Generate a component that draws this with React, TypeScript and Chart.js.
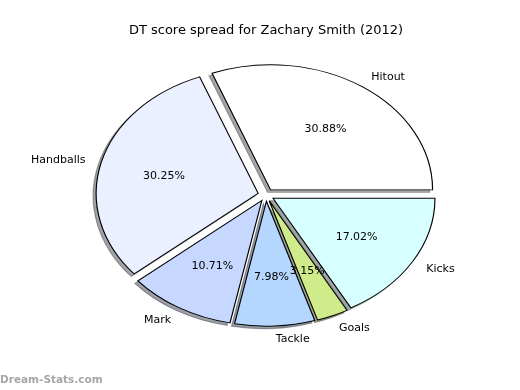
import React, { useEffect, useRef } from "react";
import { Chart, registerables } from "chart.js";

Chart.register(...registerables);

const TITLE = "DT score spread for Zachary Smith (2012)";
const WATERMARK = "Dream-Stats.com";
const categories = ["Hitout", "Handballs", "Mark", "Tackle", "Goals", "Kicks"];
const percentages = [30.88, 30.25, 10.71, 7.98, 3.15, 17.02];
const percentLabels = ["30.88%", "30.25%", "10.71%", "7.98%", "3.15%", "17.02%"];
const sliceColors = ["#ffffff", "#eaf0ff", "#c6d8ff", "#b4d6ff", "#cfeb8a", "#d8ffff"];

const SX = 1.296; // horizontal stretch (non-equal aspect pie)
const EXPLODE = 0.05;
const SHIFT = 3000;
const FONT = "'DejaVu Sans', 'Liberation Sans', sans-serif";

function shadowOf(hex: string): string {
  const h = hex.replace("#", "");
  const r = parseInt(h.slice(0, 2), 16);
  const g = parseInt(h.slice(2, 4), 16);
  const b = parseInt(h.slice(4, 6), 16);
  return `rgba(${Math.round(r * 0.3)},${Math.round(g * 0.3)},${Math.round(b * 0.3)},0.5)`;
}

const mplPie = {
  id: "mplPie",
  beforeDatasetsDraw(chart: any) {
    const ctx = chart.ctx as CanvasRenderingContext2D;
    const arcs = chart.getDatasetMeta(0).data;
    const bgs = chart.data.datasets[0].backgroundColor as string[];
    const pass = (shadow: boolean) => {
      arcs.forEach((arc: any, i: number) => {
        const { x, y, startAngle, endAngle, outerRadius } = arc.getProps(
          ["x", "y", "startAngle", "endAngle", "outerRadius"],
          true
        );
        const mid = (startAngle + endAngle) / 2;
        ctx.save();
        if (shadow) {
          ctx.translate(-SHIFT, 0);
          ctx.shadowOffsetX = SHIFT - 3;
          ctx.shadowOffsetY = 2.5;
          ctx.shadowBlur = 0;
          ctx.shadowColor = shadowOf(bgs[i]);
        }
        ctx.translate(x, y);
        ctx.scale(SX, 1);
        ctx.translate(-x, -y);
        ctx.translate(Math.cos(mid) * EXPLODE * outerRadius, Math.sin(mid) * EXPLODE * outerRadius);
        arc.draw(ctx);
        ctx.restore();
      });
    };
    pass(true);
    pass(false);
    return false;
  },
  afterDraw(chart: any) {
    const ctx = chart.ctx as CanvasRenderingContext2D;
    const arcs = chart.getDatasetMeta(0).data;
    const n = categories.length;
    ctx.save();
    ctx.fillStyle = "#000000";
    ctx.font = `13px ${FONT}`;
    ctx.textAlign = "center";
    ctx.textBaseline = "middle";
    ctx.fillText(TITLE, 266, 31);

    ctx.font = `11px ${FONT}`;
    for (let i = 0; i < n; i++) {
      const arc = arcs[n - 1 - i];
      const { x, y, startAngle, endAngle, outerRadius } = arc.getProps(
        ["x", "y", "startAngle", "endAngle", "outerRadius"],
        true
      );
      const mid = (startAngle + endAngle) / 2;
      const c = Math.cos(mid);
      const s = Math.sin(mid);
      const kl = 1.1 + EXPLODE;
      ctx.textAlign = c > 0 ? "left" : "right";
      ctx.fillText(categories[i], x + SX * kl * outerRadius * c, y + kl * outerRadius * s + 1);
      const kp = 0.6 + EXPLODE;
      ctx.textAlign = "center";
      ctx.fillText(percentLabels[i], x + SX * kp * outerRadius * c, y + kp * outerRadius * s + 1);
    }

    ctx.font = `bold 10.5px ${FONT}`;
    ctx.fillStyle = "#a6a6a6";
    ctx.textAlign = "left";
    ctx.fillText(WATERMARK, 0, 380);
    ctx.restore();
  },
};

export default function App() {
  const ref = useRef<HTMLCanvasElement>(null);
  useEffect(() => {
    if (!ref.current) return;
    const rev = <T,>(a: T[]) => a.slice().reverse();
    const chart = new Chart(ref.current, {
      type: "pie",
      data: {
        labels: rev(categories),
        datasets: [
          {
            data: rev(percentages),
            backgroundColor: rev(sliceColors),
            borderColor: "#000000",
            borderWidth: 0.9,
            borderJoinStyle: "miter",
            radius: 125,
            rotation: 90,
          } as any,
        ],
      },
      options: {
        responsive: false,
        devicePixelRatio: 1,
        animation: false,
        events: [],
        layout: { padding: { left: 12, right: 0, top: 0, bottom: 0 } },
        plugins: {
          legend: { display: false },
          title: { display: false },
          tooltip: { enabled: false },
        },
      },
      plugins: [mplPie],
    });
    return () => chart.destroy();
  }, []);
  return (
    <div style={{ position: "fixed", left: 0, top: 0, width: 520, height: 390, background: "#ffffff" }}>
      <canvas ref={ref} width={520} height={390} style={{ width: 520, height: 390 }} />
    </div>
  );
}
